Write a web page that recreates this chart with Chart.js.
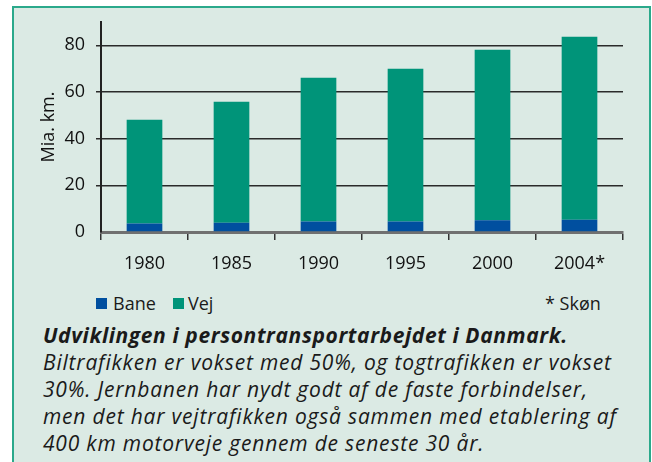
<!DOCTYPE html>
<html>
<head>
<meta charset="utf-8">
<script src="https://cdn.jsdelivr.net/npm/chart.js@4/dist/chart.umd.min.js"></script>
<style>
  body { margin: 0; background: #fff; width: 652px; height: 462px; overflow: hidden; position: relative; font-family: 'Open Sans', sans-serif; color: #1a1a1a; }
  #ramme { position: absolute; left: 12px; top: 6px; width: 635px; height: 470px; border: 2px solid #2ba98b; border-bottom: none; background: #dbeae4; }
  #graf { position: absolute; left: 0; top: 0; }
  .sw { position: absolute; top: 298px; width: 11px; height: 11px; }
  .lbl { position: absolute; top: 291px; font-size: 18px; line-height: 24px; }
  #tekst { position: absolute; left: 43px; top: 322px; font-size: 21px; line-height: 27px; letter-spacing: 0.8px; font-style: italic; white-space: nowrap; }
  #tekst b { font-weight: 700; letter-spacing: 0.6px; }
</style>
</head>
<body>
<div id="ramme"></div>
<canvas id="graf" width="652" height="290"></canvas>
<div class="sw" style="left:96px;background:#004f9f"></div>
<div class="lbl" style="left:113px">Bane</div>
<div class="sw" style="left:173px;background:#009479"></div>
<div class="lbl" style="left:188px">Vej</div>
<div class="lbl" style="left:545px">* Skøn</div>
<div id="tekst"><b>Udviklingen i persontransportarbejdet i Danmark.</b><br>Biltrafikken er vokset med 50%, og togtrafikken er vokset<br>30%. Jernbanen har nydt godt af de faste forbindelser,<br>men det har vejtrafikken også sammen med etablering af<br>400 km motorveje gennem de seneste 30 år.</div>
<script>
// Data (mia. km)
const aar = ["1980", "1985", "1990", "1995", "2000", "2004*"];
const bane = [3.6, 4.0, 4.5, 4.5, 5.0, 5.3];
const vej = [44.5, 51.8, 61.6, 65.5, 73.1, 78.4];
const yTicks = [0, 20, 40, 60, 80];

Chart.defaults.font.family = "'Open Sans', sans-serif";
Chart.defaults.color = '#111';

new Chart(document.getElementById('graf'), {
  type: 'bar',
  data: {
    labels: aar,
    datasets: [
      { label: 'Bane', data: bane, backgroundColor: '#004f9f' },
      { label: 'Vej', data: vej, backgroundColor: '#009479' }
    ]
  },
  options: {
    responsive: false,
    animation: false,
    layout: { padding: { top: 22, right: 29, left: 0, bottom: 0 } },
    datasets: { bar: { categoryPercentage: 1, barPercentage: 0.41 } },
    plugins: { legend: { display: false }, tooltip: { enabled: false } },
    scales: {
      x: {
        stacked: true,
        afterFit: s => { s.height = 58; },
        border: { color: '#707070', width: 3 },
        grid: { drawOnChartArea: false, tickLength: 8, color: '#333', lineWidth: 1.5 },
        ticks: { font: { size: 18 }, padding: 13 }
      },
      y: {
        stacked: true,
        min: 0,
        max: 90,
        afterFit: s => { s.width = 101; },
        afterBuildTicks: s => { s.ticks = yTicks.map(v => ({ value: v })); },
        border: { color: '#222', width: 2 },
        grid: {
          tickLength: 5,
          color: c => c.tick && c.tick.value === 0 ? 'rgba(0,0,0,0)' : '#2a2a2a',
          lineWidth: 1.5
        },
        ticks: { font: { size: 18 }, padding: 11 },
        title: { display: true, text: 'Mia. km.', font: { size: 18 }, padding: { top: 38, bottom: 0 } }
      }
    }
  }
});
</script>
</body>
</html>
